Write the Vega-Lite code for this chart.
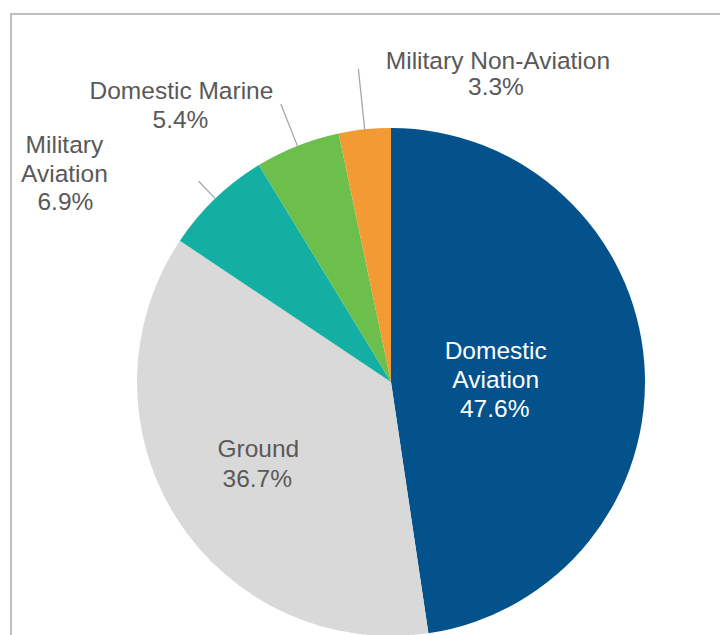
{
  "$schema": "https://vega.github.io/schema/vega-lite/v6.json",
  "width": 760,
  "height": 736,
  "autosize": "none",
  "padding": {"left": 11, "top": 14, "right": 0, "bottom": 0},
  "background": "white",
  "view": {"stroke": "#bfbfbf", "strokeWidth": 2, "fill": "white"},
  "config": {
    "text": {"font": "Liberation Sans", "fontSize": 24.5, "lineHeight": 29, "lineBreak": "\n", "align": "center", "baseline": "top", "color": "#595959"}
  },
  "data": {
    "values": [
      {"category": "Domestic Aviation", "label": "Domestic\nAviation", "share": 0.476, "ord": 1},
      {"category": "Ground", "label": "Ground", "share": 0.367, "ord": 2},
      {"category": "Military Aviation", "label": "Military\nAviation", "share": 0.069, "ord": 3},
      {"category": "Domestic Marine", "label": "Domestic Marine", "share": 0.054, "ord": 4},
      {"category": "Military Non-Aviation", "label": "Military Non-Aviation", "share": 0.033, "ord": 5}
    ]
  },
  "encoding": {
    "theta": {"field": "share", "type": "quantitative", "stack": true},
    "order": {"field": "ord", "type": "quantitative"}
  },
  "layer": [
    {
      "mark": {"type": "arc", "radius": 254},
      "encoding": {
        "color": {
          "field": "category", "type": "nominal", "legend": null,
          "scale": {
            "domain": ["Domestic Aviation", "Ground", "Military Aviation", "Domestic Marine", "Military Non-Aviation"],
            "range": ["#03528c", "#d9d9d9", "#13afa3", "#6cbf4b", "#f29a34"]
          }
        }
      }
    },
    {
      "mark": {"type": "arc", "radius": 315, "radius2": 254, "padAngle": 1, "fill": "transparent", "stroke": "#a6a6a6", "strokeWidth": 1.3},
      "encoding": {"strokeOpacity": {"condition": {"test": "datum.category === 'Military Non-Aviation'", "value": 1}, "value": 0}}
    },
    {
      "mark": {"type": "arc", "radius": 299, "radius2": 254, "padAngle": 1, "fill": "transparent", "stroke": "#a6a6a6", "strokeWidth": 1.3},
      "encoding": {"strokeOpacity": {"condition": {"test": "datum.category === 'Domestic Marine'", "value": 1}, "value": 0}}
    },
    {
      "mark": {"type": "arc", "radius": 278, "radius2": 254, "padAngle": 1, "fill": "transparent", "stroke": "#a6a6a6", "strokeWidth": 1.3},
      "encoding": {"strokeOpacity": {"condition": {"test": "datum.category === 'Military Aviation'", "value": 1}, "value": 0}}
    },
    {
      "mark": {"type": "text", "radius": 105, "dx": 0, "dy": -34, "color": "white"},
      "encoding": {"text": {"condition": {"test": "datum.category === 'Domestic Aviation'", "field": "label", "type": "nominal"}, "value": ""}}
    },
    {
      "mark": {"type": "text", "radius": 105, "dx": -1, "dy": 24, "color": "white"},
      "encoding": {"text": {"condition": {"test": "datum.category === 'Domestic Aviation'", "field": "share", "type": "quantitative", "format": ".1%"}, "value": ""}}
    },
    {
      "mark": {"type": "text", "radius": 150, "dx": -6, "dy": -24},
      "encoding": {"text": {"condition": {"test": "datum.category === 'Ground'", "field": "label", "type": "nominal"}, "value": ""}}
    },
    {
      "mark": {"type": "text", "radius": 150, "dx": -7, "dy": 6},
      "encoding": {"text": {"condition": {"test": "datum.category === 'Ground'", "field": "share", "type": "quantitative", "format": ".1%"}, "value": ""}}
    },
    {
      "mark": {"type": "text", "radius": 300, "dx": -119, "dy": -31},
      "encoding": {"text": {"condition": {"test": "datum.category === 'Military Aviation'", "field": "label", "type": "nominal"}, "value": ""}}
    },
    {
      "mark": {"type": "text", "radius": 300, "dx": -118, "dy": 26},
      "encoding": {"text": {"condition": {"test": "datum.category === 'Military Aviation'", "field": "share", "type": "quantitative", "format": ".1%"}, "value": ""}}
    },
    {
      "mark": {"type": "text", "radius": 300, "dx": -99, "dy": -23},
      "encoding": {"text": {"condition": {"test": "datum.category === 'Domestic Marine'", "field": "label", "type": "nominal"}, "value": ""}}
    },
    {
      "mark": {"type": "text", "radius": 300, "dx": -100, "dy": 6},
      "encoding": {"text": {"condition": {"test": "datum.category === 'Domestic Marine'", "field": "share", "type": "quantitative", "format": ".1%"}, "value": ""}}
    },
    {
      "mark": {"type": "text", "radius": 300, "dx": 138, "dy": -34},
      "encoding": {"text": {"condition": {"test": "datum.category === 'Military Non-Aviation'", "field": "label", "type": "nominal"}, "value": ""}}
    },
    {
      "mark": {"type": "text", "radius": 300, "dx": 136, "dy": -8},
      "encoding": {"text": {"condition": {"test": "datum.category === 'Military Non-Aviation'", "field": "share", "type": "quantitative", "format": ".1%"}, "value": ""}}
    }
  ]
}
